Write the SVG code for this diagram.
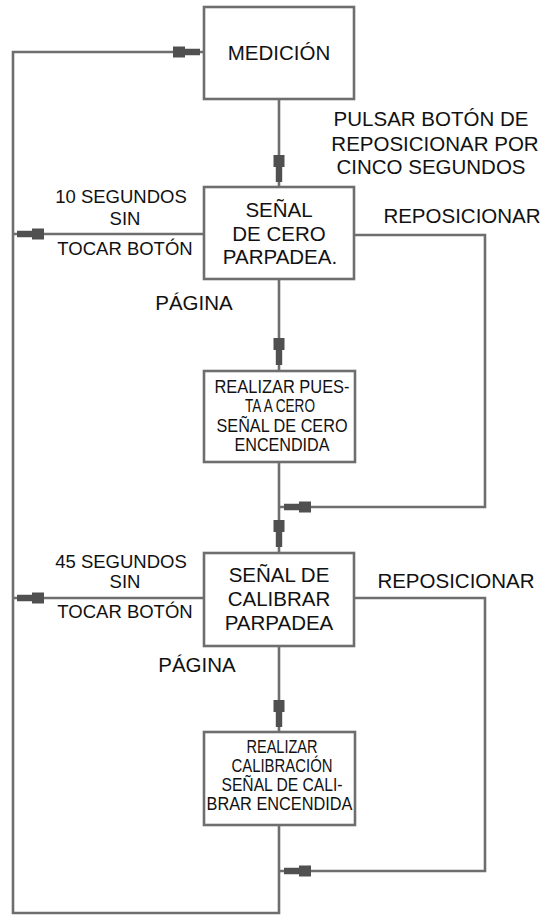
<svg xmlns="http://www.w3.org/2000/svg" xmlns:xlink="http://www.w3.org/1999/xlink" width="548" height="916" viewBox="0 0 548 916">
<style>
.box{fill:#fff;stroke:#6e6e6e;stroke-width:2.6}
.ln{fill:none;stroke:#6e6e6e;stroke-width:2.6}
.t{font-family:"Liberation Sans",Arial,sans-serif;font-size:20.5px;fill:#111;text-anchor:middle}
.s{font-family:"Liberation Sans",Arial,sans-serif;font-size:18.5px;fill:#111;text-anchor:middle}
.c{font-family:"Liberation Sans",Arial,sans-serif;font-size:18px;fill:#111;text-anchor:middle}
</style>
<defs>
<path id="arr" d="M-3.2,0 L3.2,0 L3.2,-15 L5.5,-15 L5.5,-27 L-5.5,-27 L-5.5,-15 L-3.2,-15 Z" fill="#505050"/>
</defs>
<rect width="548" height="916" fill="#fff"/>
<g id="connectors">
<path class="ln" d="M279,99 V187 M279,279 V371 M279,462 V553 M279,646 V732 M279,825 V913 H13 V52 H204"/>
<path class="ln" d="M204,234 H13"/>
<path class="ln" d="M204,598 H13"/>
<path class="ln" d="M354,235 H485 V507 H279"/>
<path class="ln" d="M354,598 H485 V871 H279"/>
<use xlink:href="#arr" href="#arr" transform="translate(200,52) rotate(-90)"/>
<use xlink:href="#arr" href="#arr" transform="translate(279,182)"/>
<use xlink:href="#arr" href="#arr" transform="translate(17,234) rotate(90)"/>
<use xlink:href="#arr" href="#arr" transform="translate(279,365)"/>
<use xlink:href="#arr" href="#arr" transform="translate(284,507) rotate(90)"/>
<use xlink:href="#arr" href="#arr" transform="translate(279,547)"/>
<use xlink:href="#arr" href="#arr" transform="translate(17,598) rotate(90)"/>
<use xlink:href="#arr" href="#arr" transform="translate(279,727)"/>
<use xlink:href="#arr" href="#arr" transform="translate(284,871) rotate(90)"/>
<text class="t" x="431" y="126">PULSAR BOTÓN DE</text>
<text class="t" x="435" y="151">REPOSICIONAR POR</text>
<text class="t" x="431" y="174">CINCO SEGUNDOS</text>
<text class="t" x="462" y="223">REPOSICIONAR</text>
<text class="t" x="456" y="588">REPOSICIONAR</text>
<text class="s" x="121" y="203">10 SEGUNDOS</text>
<text class="s" x="125" y="225">SIN</text>
<text class="s" x="125" y="255">TOCAR BOTÓN</text>
<text class="s" x="121" y="568">45 SEGUNDOS</text>
<text class="s" x="125" y="588">SIN</text>
<text class="s" x="125" y="618">TOCAR BOTÓN</text>
<text class="t" x="194" y="310">PÁGINA</text>
<text class="t" x="197" y="672">PÁGINA</text>
</g>
<g id="medicion">
<rect class="box" x="204" y="7" width="150" height="92"/>
<text class="t" x="279" y="60">MEDICIÓN</text>
</g>
<g id="senal-cero">
<rect class="box" x="204" y="187" width="150" height="92"/>
<text class="t" x="279" y="217">SEÑAL</text>
<text class="t" x="279" y="241">DE CERO</text>
<text class="t" x="280" y="264">PARPADEA.</text>
</g>
<g id="puesta-cero">
<rect class="box" x="204" y="371" width="151" height="91"/>
<text class="c" x="282" y="392.5" textLength="135" lengthAdjust="spacingAndGlyphs">REALIZAR PUES-</text>
<text class="c" x="280" y="412" textLength="70" lengthAdjust="spacingAndGlyphs">TA A CERO</text>
<text class="c" x="282" y="431.5" textLength="131" lengthAdjust="spacingAndGlyphs">SEÑAL DE CERO</text>
<text class="c" x="282" y="450.5" textLength="95" lengthAdjust="spacingAndGlyphs">ENCENDIDA</text>
</g>
<g id="senal-calibrar">
<rect class="box" x="204" y="553" width="150" height="93"/>
<text class="t" x="279" y="582">SEÑAL DE</text>
<text class="t" x="279" y="606">CALIBRAR</text>
<text class="t" x="279" y="630">PARPADEA</text>
</g>
<g id="calibracion">
<rect class="box" x="204" y="732" width="151" height="93"/>
<text class="c" x="282" y="753" textLength="71" lengthAdjust="spacingAndGlyphs">REALIZAR</text>
<text class="c" x="282" y="772" textLength="101" lengthAdjust="spacingAndGlyphs">CALIBRACIÓN</text>
<text class="c" x="282" y="791" textLength="121" lengthAdjust="spacingAndGlyphs">SEÑAL DE CALI-</text>
<text class="c" x="279.5" y="810" textLength="146" lengthAdjust="spacingAndGlyphs">BRAR ENCENDIDA</text>
</g>
</svg>
